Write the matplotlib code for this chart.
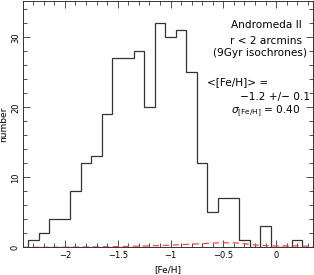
import matplotlib

matplotlib.use("Agg")
import matplotlib.pyplot as plt
import numpy as np

# [Fe/H] histogram, bins of 0.1 dex
bin_edges = np.round(np.arange(-2.35, 0.251, 0.1), 2)
counts = [1, 2, 4, 4, 8, 12, 13, 19, 27, 27, 28, 20, 32, 30, 31, 25,
          12, 5, 7, 7, 1, 0, 3, 0, 0, 1]

# red dashed curve (contamination estimate)
model_x = [-2.4, -2.0, -1.5, -1.2, -1.0, -0.8, -0.6, -0.5, -0.4, -0.3,
           -0.2, -0.1, 0.0, 0.1, 0.2, 0.3, 0.35]
model_y = [0.0, 0.02, 0.1, 0.2, 0.3, 0.45, 0.6, 0.65, 0.65, 0.5,
           0.35, 0.25, 0.2, 0.2, 0.2, 0.15, 0.15]

x_ticks = [-2, -1.5, -1, -0.5, 0]
x_ticklabels = ["\u22122", "\u22121.5", "\u22121", "\u22120.5", "0"]
y_ticks = [0, 10, 20, 30]

fig = plt.figure(figsize=(3.14, 2.75), dpi=100)
ax = fig.add_axes([0.0723, 0.1007, 0.9247, 0.8963])

ax.stairs(counts, bin_edges, color="#333333", lw=0.9)
ax.plot(model_x, model_y, color="#ff4444", lw=0.9, ls=(0, (5, 3)))

ax.set_xlim(-2.4, 0.35)
ax.set_ylim(0, 35.2)
ax.set_xticks(x_ticks)
ax.set_xticklabels(x_ticklabels)
ax.set_yticks(y_ticks)
ax.set_xticks(np.arange(-2.4, 0.36, 0.1), minor=True)
ax.set_yticks(np.arange(0, 35, 2), minor=True)
ax.tick_params(which="both", direction="in", top=True, right=True,
               labelsize=6, width=0.6, color="#333333")
ax.tick_params(axis="x", pad=3)
ax.tick_params(axis="y", pad=2)
ax.tick_params(which="major", length=5)
ax.tick_params(which="minor", length=3)
for lab in ax.get_yticklabels():
    lab.set_rotation(90)
    lab.set_va("center")
for sp in ax.spines.values():
    sp.set_linewidth(0.7)
    sp.set_color("#333333")

ax.set_xlabel("[Fe/H]", fontsize=6.5, labelpad=3)
ax.set_ylabel("number", fontsize=6.5, labelpad=2)

fs = 7.6
ax.text(0.961, 0.900, "Andromeda II", transform=ax.transAxes, ha="right", va="center", fontsize=fs)
ax.text(0.962, 0.838, "r < 2 arcmins", transform=ax.transAxes, ha="right", va="center", fontsize=fs)
ax.text(0.978, 0.787, "(9Gyr isochrones)", transform=ax.transAxes, ha="right", va="center", fontsize=fs)
ax.text(0.636, 0.672, "<[Fe/H]> =", transform=ax.transAxes, ha="left", va="center", fontsize=fs)
ax.text(0.990, 0.611, "\u22121.2 +/\u2212 0.1", transform=ax.transAxes, ha="right", va="center", fontsize=fs)
ax.text(0.955, 0.551, r"$\sigma_{\mathrm{[Fe/H]}}$ = 0.40", transform=ax.transAxes,
        ha="right", va="center", fontsize=fs)

fig.savefig("out.png", dpi=100)
